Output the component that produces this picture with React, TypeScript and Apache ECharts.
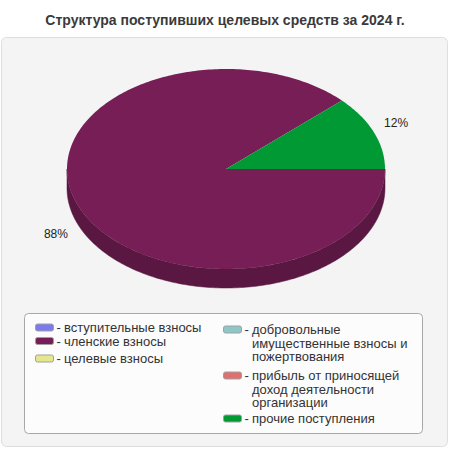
import React, { useEffect, useRef } from 'react';
import * as echarts from 'echarts';

const TITLE = 'Структура поступивших целевых средств за 2024 г.';

const CATEGORIES = [
  'вступительные взносы',
  'членские взносы',
  'целевые взносы',
  'добровольные имущественные взносы и пожертвования',
  'прибыль от приносящей доход деятельности организации',
  'прочие поступления',
];

// how each legend entry is wrapped in the box
const LEGEND_LINES = [
  ['вступительные взносы'],
  ['членские взносы'],
  ['целевые взносы'],
  ['добровольные', 'имущественные взносы и', 'пожертвования'],
  ['прибыль от приносящей', 'доход деятельности', 'организации'],
  ['прочие поступления'],
];

const VALUES = [0, 88, 0, 0, 0, 12];

const COLORS = ['#7b7bee', '#771e57', '#e6e68c', '#8cc8c8', '#e07070', '#009933'];

// legend slots: icon left / icon centre line
const LEGEND_SLOTS = [
  { x: 35, y: 327.5 },
  { x: 35, y: 341 },
  { x: 35, y: 358.5 },
  { x: 223, y: 329.5 },
  { x: 223, y: 375.5 },
  { x: 223, y: 418.5 },
];

const FONT = 'Arial, "Liberation Sans", sans-serif';

// pie geometry (ellipse with a little depth)
const CX = 226;
const CY = 169;
const RX = 159;
const RY = 100;
const DEPTH = 19;

const darken = (hex: string, k: number) => {
  const n = parseInt(hex.slice(1), 16);
  const r = Math.round(((n >> 16) & 255) * k);
  const g = Math.round(((n >> 8) & 255) * k);
  const b = Math.round((n & 255) * k);
  return `rgb(${r},${g},${b})`;
};

const arcPoints = (a0: number, a1: number, dy: number) => {
  const steps = Math.max(2, Math.ceil(((a1 - a0) * 180) / Math.PI));
  const pts: number[][] = [];
  for (let k = 0; k <= steps; k++) {
    const a = a0 + ((a1 - a0) * k) / steps;
    pts.push([CX + RX * Math.cos(a), CY + RY * Math.sin(a) + dy]);
  }
  return pts;
};

const renderItem = (params: any, api: any) => {
  const i = params.dataIndex;
  const v = api.value(0) as number;
  if (!v) return null;
  const total = VALUES.reduce((a, b) => a + b, 0);
  const before = VALUES.slice(0, i).reduce((a, b) => a + b, 0);
  const s = (before / total) * Math.PI * 2;
  const e = ((before + v) / total) * Math.PI * 2;
  const color = COLORS[i];
  const children: any[] = [];

  // front wall (visible for angles between 0 and PI, screen clockwise)
  const w0 = Math.max(s, 0);
  const w1 = Math.min(e, Math.PI);
  if (w1 > w0) {
    const top = arcPoints(w0, w1, 0);
    const bottom = arcPoints(w0, w1, DEPTH).reverse();
    children.push({
      type: 'polygon',
      z2: 1,
      shape: { points: top.concat(bottom) },
      style: { fill: darken(color, 0.76), stroke: darken(color, 0.7), lineWidth: 0.5 },
    });
  }

  children.push({
    type: 'polygon',
    z2: 2,
    shape: { points: [[CX, CY]].concat(arcPoints(s, e, 0)) },
    style: { fill: color },
  });

  const m = (s + e) / 2;
  const cos = Math.cos(m);
  const sin = Math.sin(m);
  children.push({
    type: 'text',
    z2: 3,
    x: CX + (RX + 11) * cos,
    y: CY + (RY + 25) * sin + (sin > 0 ? DEPTH : 0),
    style: {
      text: Math.round((v / total) * 100) + '%',
      fill: '#222',
      font: `12px ${FONT}`,
      align: cos >= 0 ? 'left' : 'right',
      verticalAlign: 'middle',
    },
  });

  return { type: 'group', children };
};

const legendGraphics = () => {
  const items: any[] = [];
  CATEGORIES.forEach((name, i) => {
    const slot = LEGEND_SLOTS[i];
    items.push({
      type: 'rect',
      shape: { x: slot.x + 0.5, y: slot.y - 3.5, width: 18, height: 7, r: 2 },
      style: { fill: COLORS[i], stroke: '#a0a0a0', lineWidth: 1 },
      z: 5,
    });
    items.push({
      type: 'text',
      x: slot.x + 21.5,
      y: slot.y,
      style: { text: '-', fill: '#333', font: `13px ${FONT}`, verticalAlign: 'middle' },
      z: 5,
    });
    items.push({
      type: 'text',
      x: slot.x + 29,
      y: slot.y - 6.75,
      style: {
        text: LEGEND_LINES[i].join('\n'),
        fill: '#333',
        font: `13px ${FONT}`,
        lineHeight: 13.5,
        verticalAlign: 'top',
      },
      z: 5,
    });
  });
  return items;
};

export default function App() {
  const ref = useRef<HTMLDivElement>(null);

  useEffect(() => {
    if (!ref.current) return;
    const chart = echarts.init(ref.current, null, { renderer: 'svg' });

    const option: any = {
      animation: false,
      backgroundColor: '#fff',
      title: {
        text: TITLE,
        left: 'center',
        top: 13,
        padding: 0,
        textStyle: { fontSize: 14, fontWeight: 'bold', color: '#3a3a3a', fontFamily: FONT },
      },
      graphic: [
        {
          type: 'rect',
          z: -10,
          shape: { x: 1.5, y: 37.5, width: 446, height: 409, r: 5 },
          style: { fill: '#f4f4f4', stroke: '#dedede', lineWidth: 1 },
        },
        {
          type: 'rect',
          z: 4,
          shape: { x: 24.5, y: 313.5, width: 398, height: 120, r: 4 },
          style: { fill: '#fcfcfc', stroke: '#a8a8a8', lineWidth: 1 },
        },
        ...legendGraphics(),
      ],
      series: [
        {
          type: 'custom',
          coordinateSystem: 'none',
          renderItem,
          data: VALUES.map((v, i) => ({ value: v, name: CATEGORIES[i] })),
        },
      ],
    };

    chart.setOption(option);
    return () => {
      chart.dispose();
    };
  }, []);

  return (
    <div
      ref={ref}
      style={{ position: 'fixed', left: 0, top: 0, width: 450, height: 450 }}
    />
  );
}
